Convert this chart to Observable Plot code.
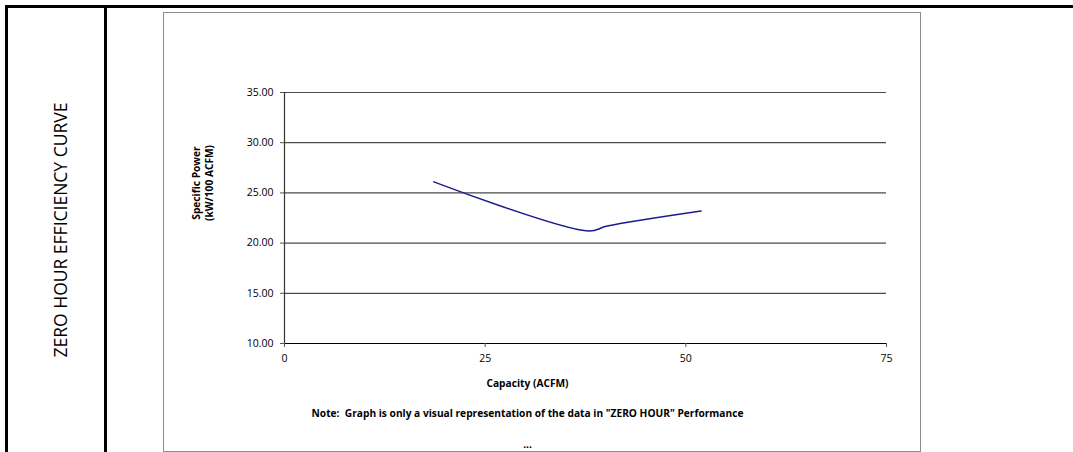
<!DOCTYPE html>
<html>
<head>
<meta charset="utf-8">
<script src="https://cdn.jsdelivr.net/npm/d3@7"></script>
<script src="https://cdn.jsdelivr.net/npm/@observablehq/plot@0.6"></script>
<style>
  html, body { margin: 0; padding: 0; background: #fff; }
  #page { position: relative; width: 1073px; height: 452px; overflow: hidden; font-family: "Open Sans", sans-serif; }
  .bar { position: absolute; background: #000; }
  #frame { position: absolute; left: 163px; top: 12px; width: 758px; height: 440px; border: 1px solid #8c8c8c; box-sizing: border-box; }
  #side { position: absolute; left: 60px; top: 230px; transform: translate(-50%, -50%) rotate(-90deg); white-space: nowrap; font-size: 17.5px; color: #000; }
  #chart { position: absolute; left: 163px; top: 12px; }
</style>
</head>
<body>
<div id="page">
  <div class="bar" style="left:5px; top:5px; width:1068px; height:3px;"></div>
  <div class="bar" style="left:5px; top:5px; width:3px; height:447px;"></div>
  <div class="bar" style="left:104px; top:5px; width:3px; height:447px;"></div>
  <div id="frame"></div>
  <div id="side"></div>
  <div id="chart"></div>
</div>
<script>
const capacity = [18.6, 37.9, 40.2, 51.9];
const specificPower = [26.1, 21.2, 21.7, 23.2];
const xTicks = [0, 25, 50, 75];
const yTicks = [10, 15, 20, 25, 30, 35];
const xTitle = "Capacity (ACFM)";
const yTitle = "Specific Power\n(kW/100 ACFM)";
const note = "Note:  Graph is only a visual representation of the data in \"ZERO HOUR\" Performance";
const trailer = "...";
const sideTitle = "ZERO HOUR EFFICIENCY CURVE";

const data = capacity.map((c, i) => ({capacity: c, power: specificPower[i]}));

const chart = Plot.plot({
  width: 760,
  height: 440,
  marginLeft: 121,
  marginRight: 37,
  marginTop: 80,
  marginBottom: 109,
  style: {fontFamily: "'Open Sans', sans-serif", fontSize: "10px", color: "#000", background: "transparent", overflow: "visible"},
  x: {domain: [0, 75]},
  y: {domain: [10, 35]},
  marks: [
    Plot.gridY(yTicks.slice(1), {stroke: "#4a4a4a", strokeOpacity: 1, strokeWidth: 1.2}),
    Plot.ruleY([10], {stroke: "#000", strokeWidth: 1.2}),
    Plot.ruleX([0], {stroke: "#333", strokeWidth: 1.2}),
    Plot.axisX({ticks: xTicks, tickSize: 4, tickPadding: 7, label: null, fontSize: 10.5, stroke: "#555"}),
    Plot.axisY({ticks: yTicks, tickSize: 4, tickPadding: 7, label: null, fontSize: 10.5, tickFormat: d3.format(".2f"), stroke: "#555"}),
    Plot.line(data, {x: "capacity", y: "power", stroke: "#1c1c8e", strokeWidth: 1.5, curve: "catmull-rom"}),
    Plot.text([yTitle], {frameAnchor: "left", text: d => d, rotate: -90, dx: -82, dy: -35, textAnchor: "middle", fontWeight: "bold", fontSize: 10.2, lineAnchor: "middle", lineHeight: 1.2}),
    Plot.text([xTitle], {frameAnchor: "bottom", text: d => d, dx: -58, dy: 40, fontWeight: "bold", fontSize: 10.2, lineAnchor: "middle"}),
    Plot.text([note], {frameAnchor: "bottom", text: d => d, dx: -58, dy: 70, fontWeight: "bold", fontSize: 10.2, lineAnchor: "middle"}),
    Plot.text([trailer], {frameAnchor: "bottom", text: d => d, dx: -58, dy: 101, fontWeight: "bold", fontSize: 10.2, lineAnchor: "middle"})
  ]
});
document.getElementById("chart").appendChild(chart);
document.getElementById("side").textContent = sideTitle;
</script>
</body>
</html>
